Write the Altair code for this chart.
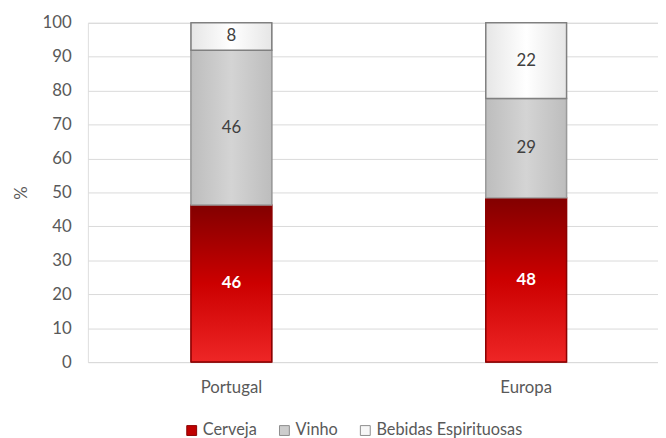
import altair as alt
import pandas as pd

countries = ["Portugal", "Europa"]
series = ["Cerveja", "Vinho", "Bebidas Espirituosas"]
portugal_values = [46.3, 45.6, 8.1]
europa_values = [48.4, 29.3, 22.3]
legend_fill = ["#c00000", "#cdcdcd", "#f7f7f7"]
legend_stroke = ["#8b0000", "#8c8c8c", "#8c8c8c"]

rows = []
for c, vals in zip(countries, [portugal_values, europa_values]):
    for i, (s, v) in enumerate(zip(series, vals)):
        rows.append({"country": c, "series": s, "value": v, "order": i})
df = pd.DataFrame(rows)

FONT = "Lato"
GREY = "#595959"

def grad(stops, horizontal=False):
    return alt.LinearGradient(
        gradient="linear",
        stops=[alt.GradientStop(color=c, offset=o) for o, c in stops],
        x1=0, x2=1 if horizontal else 0, y1=0, y2=0 if horizontal else 1,
    )

xscale = alt.Scale(domain=countries, paddingInner=0.726, paddingOuter=0.33, align=0.53)
yscale = alt.Scale(domain=[0, 100])

base = alt.Chart(df).transform_stack(
    stack="value", groupby=["country"], sort=[alt.SortField("order")], as_=["y0", "y1"]
).transform_calculate(mid="(datum.y0 + datum.y1) / 2")

x_enc = alt.X(
    "country:N", scale=xscale, sort=countries, title=None,
    axis=alt.Axis(labelAngle=0, labelFont=FONT, labelFontSize=17, labelColor=GREY,
                  ticks=False, domain=False, labelPadding=18, grid=False),
)
y_axis = alt.Axis(values=list(range(0, 101, 10)), labelFont=FONT, labelFontSize=17,
                  labelColor=GREY, ticks=False, domain=False, labelPadding=17,
                  gridColor="#d9d9d9", gridWidth=1, titleFont=FONT, titleFontSize=17,
                  titleColor=GREY, titleFontWeight="normal", titlePadding=12)
y_enc = alt.Y("y0:Q", scale=yscale, title="%", axis=y_axis)

legend_layer = base.mark_bar(strokeWidth=1).encode(
    x=x_enc, y=y_enc, y2="y1:Q",
    fill=alt.Fill("series:N", scale=alt.Scale(domain=series, range=legend_fill), title=None,
                  legend=alt.Legend(orient="none", legendX=97, legendY=405, direction="horizontal",
                                    symbolType="square", symbolSize=100, labelFont=FONT,
                                    labelFontSize=16.5, labelColor=GREY, columnPadding=19,
                                    labelOffset=3, symbolStrokeWidth=1)),
    stroke=alt.Stroke("series:N", scale=alt.Scale(domain=series, range=legend_stroke), title=None),
)

gradients = {
    "Cerveja": (grad([(0, "#820000"), (0.5, "#cc0000"), (1, "#ee2626")]), "#8b0000"),
    "Vinho": (grad([(0, "#bdbdbd"), (0.5, "#d4d4d4"), (1, "#bdbdbd")], horizontal=True), "#9a9a9a"),
    "Bebidas Espirituosas": (grad([(0, "#e6e6e6"), (0.5, "#ffffff"), (1, "#e6e6e6")], horizontal=True), "#808080"),
}

layers = [legend_layer]
for s in series:
    g, st = gradients[s]
    layers.append(
        base.transform_filter(alt.datum.series == s).mark_bar(fill=g, stroke=st, strokeWidth=1.5).encode(
            x=x_enc, y=y_enc, y2="y1:Q",
        )
    )

text_white = base.transform_filter(alt.datum.series == "Cerveja").mark_text(
    font=FONT, fontSize=17, fontWeight="bold", color="white"
).encode(x=x_enc, y=alt.Y("mid:Q", scale=yscale, title="%", axis=y_axis),
         text=alt.Text("value:Q", format=".0f"))
text_grey = base.transform_filter(alt.datum.series != "Cerveja").mark_text(
    font=FONT, fontSize=17, color="#404040"
).encode(x=x_enc, y=alt.Y("mid:Q", scale=yscale, title="%", axis=y_axis),
         text=alt.Text("value:Q", format=".0f"))
layers += [text_white, text_grey]

chart = alt.layer(*layers).properties(
    width=578, height=344, padding={"left": 4, "top": 3, "right": 0, "bottom": 0}
).configure_view(stroke=None).configure(background="white")

chart.save("out.html", embed_options={"renderer": "svg", "actions": False})
